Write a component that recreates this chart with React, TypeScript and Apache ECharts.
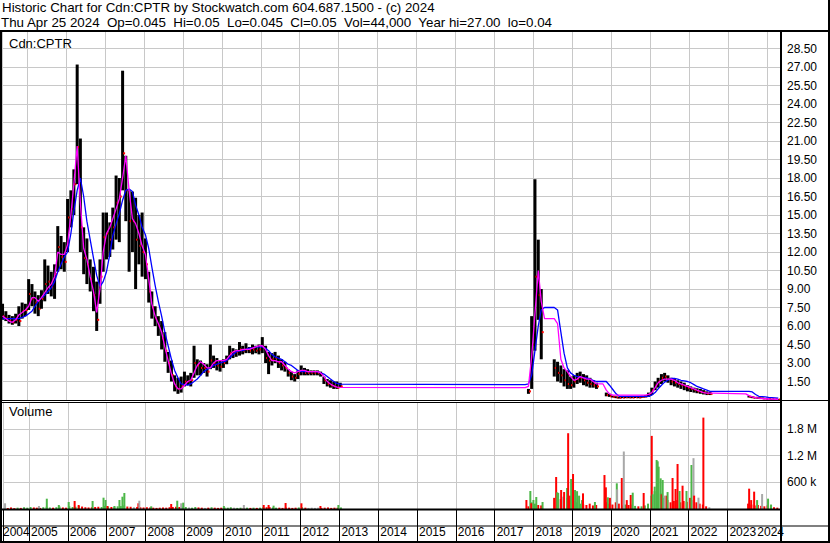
import React, { useEffect, useRef } from 'react';
import * as echarts from 'echarts';

const FONT = '"Liberation Sans", Arial, Helvetica, sans-serif';

const headerLine1 = 'Historic Chart for Cdn:CPTR by Stockwatch.com 604.687.1500 - (c) 2024';
const headerLine2 = 'Thu Apr 25 2024  Op=0.045  Hi=0.05  Lo=0.045  Cl=0.05  Vol=44,000  Year hi=27.00  lo=0.04';
const priceTitle = 'Cdn:CPTR';
const volumeTitle = 'Volume';

const X_MIN = '2004-05-10';
const X_MAX = '2024-05-01';

// Monthly trading ranges
const priceMonths = [
  '2004-05','2004-06','2004-07','2004-08','2004-09','2004-10','2004-11','2004-12',
  '2005-01','2005-02','2005-03','2005-04','2005-05','2005-06','2005-07','2005-08','2005-09','2005-10','2005-11','2005-12',
  '2006-01','2006-02','2006-03','2006-04','2006-05','2006-06','2006-07','2006-08','2006-09','2006-10','2006-11','2006-12',
  '2007-01','2007-02','2007-03','2007-04','2007-05','2007-06','2007-07','2007-08','2007-09','2007-10','2007-11','2007-12',
  '2008-01','2008-02','2008-03','2008-04','2008-05','2008-06','2008-07','2008-08','2008-09','2008-10','2008-11','2008-12',
  '2009-01','2009-02','2009-03','2009-04','2009-05','2009-06','2009-07','2009-08','2009-09','2009-10','2009-11','2009-12',
  '2010-01','2010-02','2010-03','2010-04','2010-05','2010-06','2010-07','2010-08','2010-09','2010-10','2010-11','2010-12',
  '2011-01','2011-02','2011-03','2011-04','2011-05','2011-06','2011-07','2011-08','2011-09','2011-10','2011-11','2011-12',
  '2012-01','2012-02','2012-03','2012-04','2012-05','2012-06','2012-07','2012-08','2012-09','2012-10','2012-11','2012-12',
  '2013-01',
  '2017-11','2017-12','2018-01','2018-02','2018-03',
  '2018-07','2018-08','2018-09','2018-10','2018-11','2018-12',
  '2019-01','2019-02','2019-03','2019-04','2019-05','2019-06','2019-07','2019-08',
  '2019-11','2019-12',
  '2020-01','2020-02','2020-03','2020-04','2020-05','2020-06','2020-07','2020-08','2020-09','2020-10','2020-11','2020-12',
  '2021-01','2021-02','2021-03','2021-04','2021-05','2021-06','2021-07','2021-08','2021-09','2021-10','2021-11','2021-12',
  '2022-01','2022-02','2022-03','2022-04','2022-05','2022-06','2022-07',
  '2023-07','2023-08','2023-09','2023-10','2023-11','2023-12',
  '2024-01','2024-02','2024-03','2024-04',
];

const priceHigh = [
  7.8, 7.2, 6.9, 6.8, 7.0, 7.6, 7.9, 7.8,
  9.8, 9.4, 8.8, 8.5, 8.9, 11.4, 10.9, 10.4, 11.0, 14.1, 13.3, 12.8,
  16.3, 17.0, 18.7, 27.2, 21.2, 14.0, 13.1, 11.4, 10.8, 9.6, 11.4, 15.2,
  15.2, 14.4, 15.6, 18.2, 18.0, 26.7, 19.8, 17.0, 16.9, 16.4, 15.0, 15.2,
  13.1, 10.4, 8.8, 7.6, 6.8, 6.4, 5.5, 3.9, 3.2, 2.0, 1.8, 1.9,
  2.3, 2.0, 2.2, 4.4, 3.3, 3.2, 3.0, 2.9, 4.5, 3.6, 3.4, 3.2,
  3.3, 3.6, 4.4, 4.2, 4.1, 4.7, 4.4, 4.6, 4.3, 4.5, 4.4, 4.5,
  5.1, 4.4, 3.9, 3.8, 3.9, 3.6, 3.3, 3.1, 2.5, 2.3, 2.1, 2.4,
  2.8, 2.6, 2.5, 2.4, 2.4, 2.4, 2.3, 1.9, 1.7, 1.6, 1.5, 1.5,
  1.4,
  0.9, 6.8, 17.9, 13.0, 9.0,
  3.3, 3.1, 2.8, 2.5, 2.4, 1.9,
  2.0, 2.2, 2.3, 2.1, 2.0, 1.8, 1.6, 1.4,
  0.6, 0.5,
  0.35, 0.3, 0.25, 0.3, 0.3, 0.3, 0.28, 0.3, 0.3, 0.35, 0.4, 0.6,
  1.0, 1.5, 1.8, 2.1, 2.2, 2.0, 1.8, 1.7, 1.6, 1.5, 1.4, 1.2,
  1.1, 1.0, 0.95, 0.9, 0.8, 0.7, 0.65,
  0.35, 0.3, 0.25, 0.22, 0.2, 0.15,
  0.12, 0.1, 0.09, 0.07,
];

const priceLow = [
  6.5, 6.4, 6.2, 6.1, 6.2, 6.0, 6.6, 6.8,
  7.3, 7.6, 7.0, 6.8, 7.4, 8.0, 8.6, 8.4, 8.2, 10.4, 10.6, 10.4,
  12.0, 14.0, 15.0, 17.5, 12.0, 10.2, 9.4, 8.8, 7.2, 5.6, 7.8, 10.4,
  11.4, 11.6, 12.2, 13.0, 12.8, 17.0, 14.5, 10.4, 12.0, 9.0, 11.0, 10.0,
  9.8, 7.9, 6.6, 6.0, 5.2, 4.1, 3.1, 2.2, 1.5, 0.7, 0.5, 0.6,
  1.1, 1.2, 1.1, 1.8, 2.0, 2.0, 2.2, 1.9, 2.5, 2.6, 2.4, 2.3,
  2.6, 2.9, 3.3, 3.4, 3.5, 3.6, 3.7, 3.8, 3.8, 3.7, 3.8, 3.7,
  3.8, 3.0, 2.1, 2.8, 3.0, 2.6, 2.4, 2.3, 1.9, 1.6, 1.5, 1.7,
  2.0, 2.0, 2.0, 2.0, 2.0, 2.0, 1.9, 1.3, 1.1, 1.0, 0.9, 0.9,
  1.0,
  0.5, 0.9, 4.0, 6.5, 3.3,
  1.9, 1.5, 1.4, 1.1, 0.9, 0.9,
  1.0, 1.3, 1.4, 1.2, 1.1, 1.0, 1.0, 0.9,
  0.3, 0.25,
  0.2, 0.15, 0.12, 0.15, 0.15, 0.15, 0.15, 0.16, 0.15, 0.18, 0.2, 0.25,
  0.4, 0.8, 1.0, 1.3, 1.5, 1.4, 1.2, 1.1, 1.0, 0.9, 0.8, 0.7,
  0.65, 0.6, 0.55, 0.5, 0.45, 0.4, 0.4,
  0.2, 0.15, 0.12, 0.1, 0.08, 0.06,
  0.05, 0.05, 0.04, 0.04,
];

const priceClose = [
  6.8, 6.6, 6.4, 6.3, 6.5, 6.4, 7.2, 7.3,
  8.6, 8.2, 7.9, 7.4, 8.2, 9.4, 9.6, 9.2, 10.2, 12.4, 11.6, 11.2,
  14.8, 15.5, 17.5, 20.5, 14.0, 11.5, 11.0, 9.8, 8.5, 6.5, 10.0, 13.2,
  13.5, 13.0, 14.0, 16.0, 16.5, 20.0, 17.0, 14.5, 14.5, 13.0, 12.5, 12.0,
  11.0, 8.8, 7.5, 6.6, 6.0, 5.0, 4.0, 3.0, 2.0, 1.1, 0.9, 1.1,
  1.5, 1.5, 1.6, 3.0, 2.8, 2.6, 2.6, 2.3, 3.2, 3.0, 2.8, 2.7,
  3.0, 3.3, 3.8, 3.8, 3.9, 4.1, 4.0, 4.1, 4.0, 4.1, 4.0, 4.1,
  4.3, 3.4, 3.2, 3.3, 3.4, 3.0, 2.8, 2.6, 2.2, 1.9, 1.8, 2.1,
  2.3, 2.2, 2.2, 2.2, 2.2, 2.2, 2.1, 1.6, 1.3, 1.2, 1.1, 1.0,
  1.1,
  0.7, 4.5, 10.0, 8.5, 5.5,
  2.6, 2.2, 2.0, 1.6, 1.3, 1.2,
  1.5, 1.7, 1.8, 1.6, 1.4, 1.3, 1.2, 1.1,
  0.4, 0.3,
  0.25, 0.2, 0.18, 0.2, 0.22, 0.2, 0.2, 0.22, 0.2, 0.25, 0.3, 0.45,
  0.8, 1.2, 1.5, 1.8, 1.9, 1.7, 1.5, 1.4, 1.3, 1.2, 1.1, 1.0,
  0.9, 0.8, 0.7, 0.65, 0.6, 0.5, 0.5,
  0.25, 0.2, 0.18, 0.15, 0.12, 0.1,
  0.08, 0.07, 0.06, 0.05,
];

// Short moving average (magenta), same months as the prices
const maFast = [
  6.8, 6.6, 6.4, 6.3, 6.5, 6.9, 7.1, 7.3,
  7.6, 8.3, 8.3, 8.0, 8.3, 8.7, 9.1, 9.4, 10.0, 12.0, 11.8, 11.8,
  12.6, 15.0, 17.5, 20.6, 16.0, 12.3, 11.4, 10.0, 8.8, 7.1, 9.0, 12.0,
  13.5, 14.0, 14.7, 15.5, 16.3, 18.0, 19.8, 17.0, 14.7, 14.3, 13.5, 12.5,
  11.8, 9.8, 7.8, 6.8, 6.2, 5.5, 4.3, 3.2, 2.1, 1.3, 0.9, 0.9,
  1.2, 1.5, 1.6, 2.2, 2.8, 3.1, 2.9, 2.6, 2.6, 3.0, 3.2, 3.2,
  3.2, 3.3, 3.6, 3.9, 4.0, 4.0, 4.1, 4.1, 4.1, 4.2, 4.3, 4.4,
  4.4, 4.1, 3.6, 3.2, 3.2, 3.1, 3.1, 2.8, 2.5, 2.3, 2.2, 2.3,
  2.4, 2.4, 2.3, 2.3, 2.3, 2.3, 2.2, 1.9, 1.5, 1.3, 1.15, 1.05,
  1.03,
  1.1, 3.5, 7.0, 10.5, 8.0,
  6.6, 6.2, 3.3, 2.6, 2.3, 1.9,
  1.6, 1.7, 1.9, 1.8, 1.7, 1.7, 1.5, 1.3,
  0.8, 0.5,
  0.4, 0.4, 0.4, 0.4, 0.4, 0.4, 0.4, 0.4, 0.4, 0.4, 0.4, 0.45,
  0.6, 1.0, 1.4, 1.6, 1.7, 1.7, 1.7, 1.6, 1.4, 1.3, 1.2, 1.1,
  1.0, 0.9, 0.8, 0.7, 0.6, 0.55, 0.55,
  0.35, 0.25, 0.2, 0.15, 0.12, 0.1,
  0.08, 0.07, 0.06, 0.05,
];

// Long moving average (blue), same months as the prices
const maSlow = [
  6.6, 6.6, 6.6, 6.6, 6.6, 6.6, 6.7, 6.8,
  7.0, 7.2, 7.6, 8.0, 8.3, 8.5, 8.8, 9.1, 9.6, 10.4, 11.0, 11.6,
  12.0, 13.5, 15.3, 17.0, 18.0, 16.5, 14.5, 13.0, 11.5, 10.1, 9.2, 9.6,
  10.4, 11.8, 13.3, 14.3, 15.1, 16.2, 17.0, 17.1, 16.9, 15.8, 15.0, 14.0,
  13.4, 12.3, 10.8, 9.3, 8.0, 6.8, 5.5, 4.4, 3.3, 2.4, 1.8, 1.3,
  1.25, 1.2, 1.3, 1.5, 1.7, 2.0, 2.3, 2.5, 2.6, 2.8, 2.9, 3.0,
  3.1, 3.2, 3.4, 3.7, 3.9, 4.0, 4.0, 4.1, 4.2, 4.2, 4.3, 4.3,
  4.3, 4.2, 4.0, 3.7, 3.5, 3.4, 3.3, 3.1, 2.9, 2.8, 2.6, 2.4,
  2.3, 2.3, 2.3, 2.3, 2.3, 2.3, 2.2, 2.1, 1.9, 1.7, 1.5, 1.35,
  1.28,
  1.3, 2.0, 4.0, 6.0, 7.3,
  7.5, 7.3, 5.5, 3.8, 2.6, 2.2,
  2.0, 1.9, 1.9, 1.8, 1.8, 1.7, 1.6, 1.5,
  1.5, 1.2,
  0.85, 0.5, 0.3, 0.3, 0.3, 0.3, 0.3, 0.3, 0.3, 0.3, 0.3, 0.3,
  0.4, 0.6, 0.9, 1.2, 1.45, 1.6, 1.75, 1.75, 1.7, 1.6, 1.55, 1.5,
  1.4, 1.25, 1.1, 1.0, 0.9, 0.8, 0.7,
  0.7, 0.65, 0.45, 0.3, 0.28, 0.25,
  0.22, 0.2, 0.18, 0.15,
];

// Moving-average values carried through months without trading
const maGapMonths = ['2017-10', '2018-04', '2018-05', '2018-06', '2019-09', '2019-10', '2022-08', '2023-06'];
const maGapFast = [1.0, 6.6, 6.6, 6.6, 1.3, 1.3, 0.55, 0.5];
const maGapSlow = [1.25, 7.5, 7.5, 7.5, 1.5, 1.5, 0.7, 0.7];

// Typical volume per month, thousands of shares
const volBase = [
  30, 25, 35, 20, 30, 25, 40, 30,
  45, 35, 30, 25, 40, 50, 35, 30, 40, 55, 35, 30,
  60, 45, 50, 70, 55, 40, 35, 40, 45, 50, 45, 70,
  55, 45, 50, 60, 65, 80, 55, 50, 40, 45, 40, 35,
  40, 35, 30, 25, 30, 35, 30, 40, 45, 50, 45, 40,
  45, 35, 30, 45, 35, 30, 25, 30, 40, 30, 25, 30,
  35, 30, 40, 30, 25, 30, 25, 30, 25, 30, 25, 30,
  45, 40, 45, 35, 30, 30, 25, 35, 30, 25, 30, 35,
  40, 30, 25, 30, 25, 30, 25, 30, 35, 25, 30, 30,
  35,
  60, 150, 120, 90, 80,
  250, 200, 220, 180, 250, 200,
  180, 150, 120, 100, 90, 120, 80, 90,
  150, 120,
  100, 150, 120, 80, 100, 90, 100, 70, 60, 60, 80, 120,
  300, 400, 450, 350, 250, 200, 150, 180, 200, 150, 180, 160,
  250, 200, 150, 120, 100, 60, 40,
  120, 100, 80, 90, 70, 60,
  80, 60, 40, 30,
];

// Individual heavy-volume days, thousands of shares; g = up, r = down, n = unchanged
const volSpikeDates = [
  '2004-05-20','2005-04-04','2005-06-17','2005-10-08','2006-01-09','2006-03-06','2006-04-13','2006-08-22',
  '2006-12-03','2006-12-22','2007-01-09','2007-03-16','2007-05-02','2007-05-30','2007-06-17','2007-10-27',
  '2007-11-05','2008-02-25','2008-08-31','2008-10-27','2008-12-03','2008-12-22','2010-01-09','2010-07-16',
  '2011-01-19','2011-03-06','2011-04-22','2011-08-13','2012-01-09','2012-07-06','2012-12-22',
  '2017-10-27','2017-12-03','2017-12-12','2018-01-01','2018-01-28','2018-03-28',
  '2018-08-03','2018-08-13','2018-08-22','2018-09-19','2018-10-08','2018-10-17','2018-11-14','2018-11-24',
  '2018-12-12','2018-12-22','2019-01-09','2019-01-28','2019-02-16','2019-03-07','2019-04-04','2019-04-13',
  '2019-08-03','2019-11-01','2019-11-14','2019-12-03','2019-12-22','2020-02-25','2020-02-28','2020-04-12',
  '2020-05-01','2020-05-29','2020-07-05','2020-07-24','2020-11-04','2021-01-19','2021-01-28','2021-02-16',
  '2021-03-06','2021-03-16','2021-03-25','2021-04-13','2021-04-22','2021-05-02','2021-05-20','2021-06-08',
  '2021-06-17','2021-08-03','2021-08-31','2021-09-19','2021-10-08','2021-11-05','2021-12-12','2022-01-28',
  '2022-02-16','2022-02-22','2022-04-04','2022-05-20','2023-07-25','2023-08-13','2023-09-10','2023-10-08',
  '2023-11-24','2024-01-19','2024-02-16',
];
const volSpikeValues = [
  128, 67, 231, 90, 157, 179, 90, 179,
  254, 202, 67, 67, 202, 276, 359, 128,
  186, 60, 112, 186, 128, 142, 67, 90,
  90, 90, 75, 135, 128, 67, 90,
  202, 404, 128, 202, 269, 157,
  718, 374, 360, 426, 276, 381, 471, 1700,
  300, 673, 785, 426, 400, 299, 200, 351,
  157, 762, 486, 262, 250, 576, 441, 695,
  1290, 200, 314, 366, 359, 1640, 330, 501,
  1100, 1070, 949, 688, 330, 650, 300, 300,
  380, 695, 449, 1010, 404, 523, 404, 987,
  1140, 300, 254, 2050, 456, 200, 389, 200,
  336, 232, 100,
];
const volSpikeKinds = [
  'n','n','g','g','g','r','r','g',
  'g','g','r','g','g','g','g','r',
  'n','g','r','g','n','g','g','n',
  'r','r','g','r','r','r','g',
  'r','g','r','g','g','g',
  'r','g','g','r','n','r','g','r',
  'r','g','r','g','g','g','g','r',
  'g','r','r','g','r','g','n','r',
  'n','r','r','g','r','r','g','g',
  'g','g','g','g','r','g','n','r',
  'g','r','r','r','g','r','g','g',
  'n','r','n','r','r','r','r','g',
  'n','g','g',
];

const VOL_COLORS: Record<string, string> = { g: '#4cb748', r: '#ff0000', n: '#a8a8a8' };
const GRID_COLOR = '#c8c8c8';

function buildOption() {
  const ohlc = priceMonths.map((m, i) => [m + '-15', priceHigh[i], priceLow[i], priceClose[i]]);

  const maRows: [string, number, number][] = priceMonths.map((m, i) => [m + '-15', maFast[i], maSlow[i]]);
  maGapMonths.forEach((m, i) => maRows.push([m + '-15', maGapFast[i], maGapSlow[i]]));
  maRows.sort((a, b) => (a[0] < b[0] ? -1 : a[0] > b[0] ? 1 : 0));

  const volItems: any[] = [];
  priceMonths.forEach((m, i) => {
    const prev = i > 0 ? priceClose[i - 1] : priceClose[i];
    const k = priceClose[i] > prev ? 'g' : priceClose[i] < prev ? 'r' : 'n';
    volItems.push({ value: [m + '-15', volBase[i] * 1000], itemStyle: { color: VOL_COLORS[k] } });
  });
  volSpikeDates.forEach((d, i) => {
    volItems.push({ value: [d, volSpikeValues[i] * 1000], itemStyle: { color: VOL_COLORS[volSpikeKinds[i]] } });
  });

  const YEAR_MS = 365.25 * 24 * 3600 * 1000;
  const minTs = new Date(X_MIN + 'T00:00:00').getTime();
  const maxTs = new Date(X_MAX + 'T00:00:00').getTime();

  const baseX = {
    type: 'time',
    min: X_MIN,
    max: X_MAX,
    splitNumber: 20,
    minInterval: YEAR_MS,
    maxInterval: YEAR_MS,
    axisLine: { show: false },
    splitLine: { show: true, lineStyle: { color: GRID_COLOR, width: 1 } },
  };

  const black = (x: number, y: number, w: number, h: number) => ({
    type: 'rect', z: 100, silent: true,
    shape: { x, y, width: w, height: h },
    style: { fill: '#000' },
  });
  const txt = (text: string, x: number, y: number, size: number) => ({
    type: 'text', z: 100, silent: true, x, y,
    style: { text, fill: '#000', fontSize: size, fontFamily: FONT, verticalAlign: 'top', align: 'left' },
  });

  return {
    animation: false,
    backgroundColor: '#ffffff',
    textStyle: { fontFamily: FONT },
    grid: [
      { left: 2, right: 50, top: 30, height: 370 },
      { left: 2, right: 50, top: 402, height: 107 },
    ],
    xAxis: [
      {
        ...baseX, gridIndex: 0,
        axisTick: { show: false },
        axisLabel: { show: false },
      },
      {
        ...baseX, gridIndex: 1,
        axisTick: { show: true, length: 33, lineStyle: { color: '#000', width: 1 } },
        axisLabel: {
          show: true,
          interval: 0,
          showMinLabel: true,
          showMaxLabel: true,
          alignMinLabel: 'left',
          alignMaxLabel: 'right',
          align: 'left',
          margin: 17,
          color: '#000',
          fontSize: 12,
          fontFamily: FONT,
          formatter: (v: number) => {
            const y = new Date(v).getFullYear();
            if (v <= minTs + 86400000) return `{a|${y}}`;
            if (v >= maxTs - 86400000) return `{c|${y}}`;
            return `{b|${y}}`;
          },
          rich: {
            a: { fontSize: 12, fontFamily: FONT, color: '#000' },
            b: { fontSize: 12, fontFamily: FONT, color: '#000', padding: [0, 0, 0, 2] },
            c: { fontSize: 12, fontFamily: FONT, color: '#000', padding: [0, -4, 0, 0] },
          },
        },
      },
    ],
    yAxis: [
      {
        type: 'value', gridIndex: 0, position: 'right',
        min: 0, max: 30, interval: 1.5,
        axisLine: { show: false }, axisTick: { show: false },
        splitLine: { show: true, lineStyle: { color: GRID_COLOR, width: 1 } },
        axisLabel: {
          show: true, showMinLabel: false, showMaxLabel: false,
          margin: 7, color: '#000', fontSize: 12, fontFamily: FONT,
          formatter: (v: number) => v.toFixed(2),
        },
      },
      {
        type: 'value', gridIndex: 1, position: 'right',
        min: 0, max: 2400000, interval: 600000,
        axisLine: { show: false }, axisTick: { show: false },
        splitLine: { show: true, lineStyle: { color: GRID_COLOR, width: 1 } },
        axisLabel: {
          show: true, showMinLabel: false, showMaxLabel: false,
          margin: 7, color: '#000', fontSize: 12, fontFamily: FONT,
          formatter: (v: number) => (v >= 1000000 ? `${(v / 1000000).toFixed(1)} M` : `${Math.round(v / 1000)} k`),
        },
      },
    ],
    series: [
      {
        type: 'custom',
        name: 'price',
        xAxisIndex: 0, yAxisIndex: 0,
        clip: true,
        encode: { x: 0, y: [1, 2, 3] },
        data: ohlc,
        renderItem: (_p: any, api: any) => {
          const t = api.value(0);
          const hi = api.coord([t, api.value(1)]);
          const lo = api.coord([t, api.value(2)]);
          const cl = api.coord([t, api.value(3)]);
          return {
            type: 'group',
            children: [
              { type: 'rect', shape: { x: hi[0] - 1.5, y: hi[1], width: 3, height: Math.max(1, lo[1] - hi[1]) }, style: { fill: '#000' } },
              { type: 'rect', shape: { x: cl[0] + 0.5, y: cl[1] - 1, width: 2, height: 2 }, style: { fill: '#ff0000' } },
            ],
          };
        },
      },
      {
        type: 'line', name: 'slow', xAxisIndex: 0, yAxisIndex: 0,
        showSymbol: false, symbol: 'none',
        lineStyle: { color: '#0000ff', width: 1.3 },
        data: maRows.map((r) => [r[0], r[2]]),
      },
      {
        type: 'line', name: 'fast', xAxisIndex: 0, yAxisIndex: 0,
        showSymbol: false, symbol: 'none',
        lineStyle: { color: '#ff00ff', width: 1.3 },
        data: maRows.map((r) => [r[0], r[1]]),
      },
      {
        type: 'bar', name: 'volume', xAxisIndex: 1, yAxisIndex: 1,
        barWidth: 2, barGap: '-100%',
        data: volItems,
      },
    ],
    graphic: [
      txt(headerLine1, 2, 1, 13.33),
      txt(headerLine2, 1, 16, 13.33),
      txt(priceTitle, 9, 37, 13),
      txt(volumeTitle, 9, 405, 13),
      black(0, 30, 830, 2),
      black(0, 30, 2, 513),
      black(780, 30, 2, 513),
      black(828, 0, 2, 543),
      black(0, 541, 830, 2),
      black(0, 400, 830, 1),
      black(0, 402, 782, 1),
      black(0, 508.5, 782, 2),
      black(0, 525.5, 830, 1),
    ],
  };
}

export default function App() {
  const ref = useRef<HTMLDivElement>(null);
  useEffect(() => {
    document.body.style.margin = '0';
    const chart = echarts.init(ref.current as HTMLDivElement, null, { renderer: 'svg', width: 830, height: 543 });
    chart.setOption(buildOption() as any);
    return () => chart.dispose();
  }, []);
  return (
    <div
      ref={ref}
      style={{ position: 'absolute', left: 0, top: 0, width: 830, height: 543, background: '#fff' }}
    />
  );
}
